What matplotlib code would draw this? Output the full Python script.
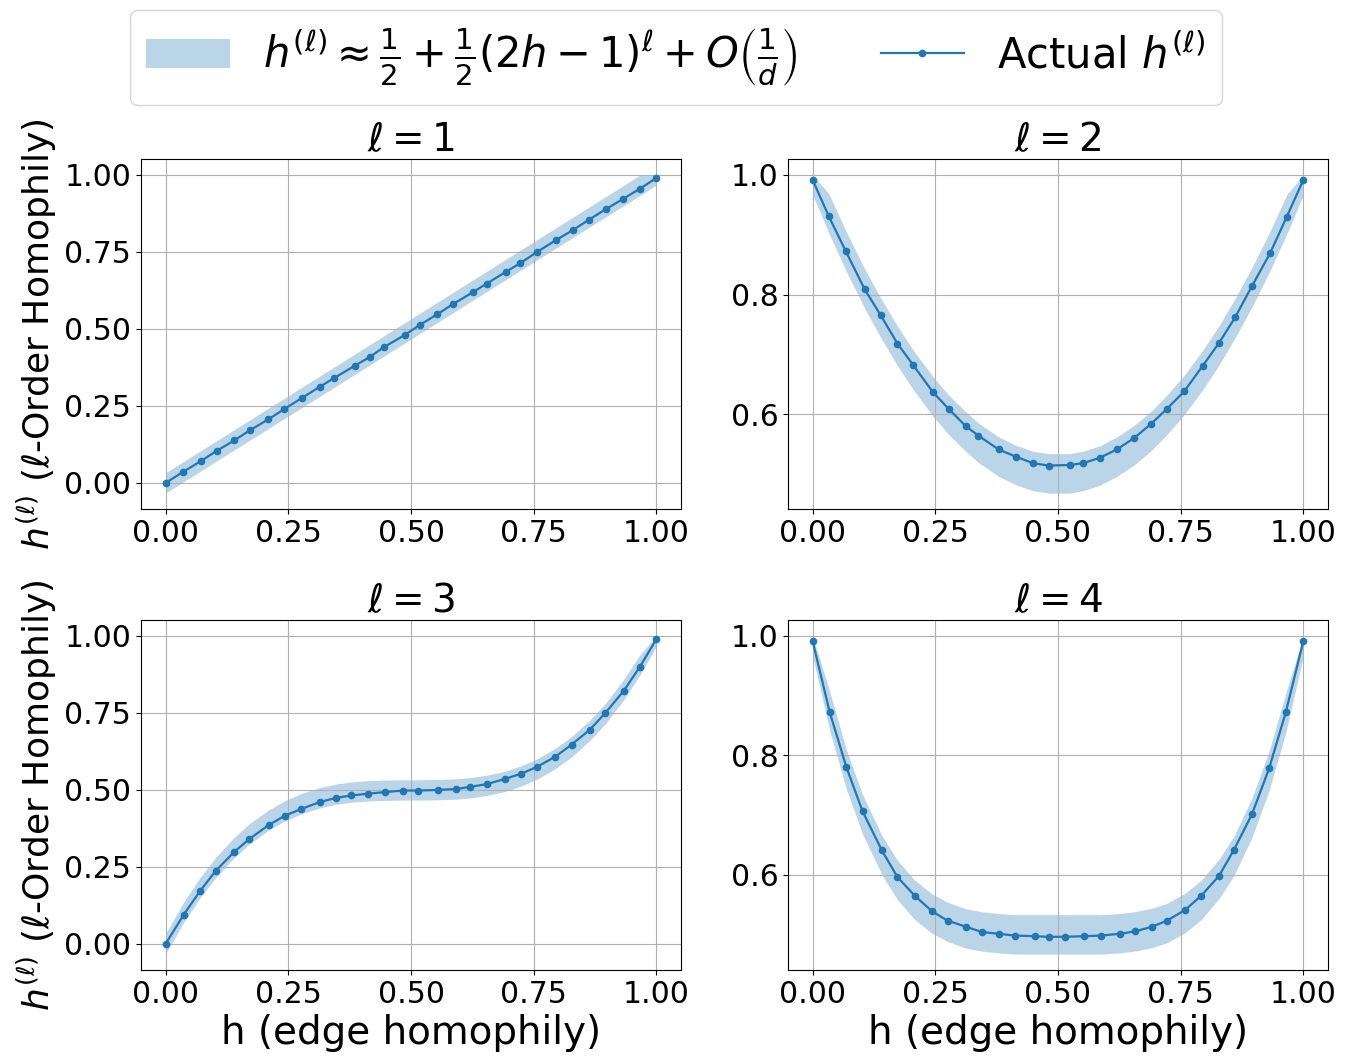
import numpy as np
import matplotlib
matplotlib.use("Agg")
import matplotlib.pyplot as plt

# edge homophily h of each graph, per panel
h_l1 = [0.0, 0.036, 0.072, 0.104, 0.140, 0.173, 0.209, 0.242, 0.278, 0.314,
        0.344, 0.386, 0.416, 0.446, 0.488, 0.519, 0.553, 0.586, 0.627, 0.654,
        0.693, 0.723, 0.757, 0.796, 0.830, 0.862, 0.898, 0.932, 0.966, 1.0]
h_l2 = [0.0, 0.033, 0.068, 0.106, 0.139, 0.173, 0.205, 0.245, 0.277, 0.312,
        0.338, 0.379, 0.414, 0.449, 0.481, 0.524, 0.551, 0.585, 0.620, 0.655,
        0.690, 0.722, 0.757, 0.795, 0.828, 0.861, 0.895, 0.932, 0.966, 1.0]
h_l3 = [0.0, 0.037, 0.070, 0.102, 0.140, 0.171, 0.211, 0.243, 0.276, 0.315,
        0.347, 0.378, 0.413, 0.448, 0.484, 0.515, 0.555, 0.592, 0.621, 0.655,
        0.692, 0.725, 0.757, 0.794, 0.827, 0.864, 0.896, 0.933, 0.966, 1.0]
h_l4 = [0.0, 0.035, 0.069, 0.102, 0.141, 0.173, 0.208, 0.243, 0.275, 0.312,
        0.345, 0.379, 0.412, 0.453, 0.481, 0.514, 0.553, 0.587, 0.626, 0.657,
        0.692, 0.722, 0.759, 0.792, 0.828, 0.858, 0.895, 0.930, 0.964, 1.0]

# actual l-order homophily
act_l1 = [0.0, 0.036, 0.071, 0.104, 0.138, 0.172, 0.206, 0.240, 0.276, 0.312,
          0.341, 0.381, 0.409, 0.442, 0.481, 0.514, 0.547, 0.581, 0.620, 0.647,
          0.685, 0.714, 0.750, 0.789, 0.821, 0.854, 0.890, 0.922, 0.955, 0.990]
act_l2 = [0.992, 0.931, 0.872, 0.809, 0.765, 0.718, 0.682, 0.637, 0.609, 0.580,
          0.564, 0.541, 0.529, 0.518, 0.514, 0.515, 0.518, 0.527, 0.541, 0.560,
          0.584, 0.609, 0.638, 0.681, 0.719, 0.762, 0.814, 0.869, 0.930, 0.992]
act_l3 = [0.0, 0.095, 0.171, 0.237, 0.299, 0.341, 0.387, 0.416, 0.438, 0.461,
          0.474, 0.482, 0.488, 0.493, 0.498, 0.498, 0.500, 0.503, 0.510, 0.519,
          0.536, 0.553, 0.575, 0.608, 0.647, 0.695, 0.750, 0.821, 0.899, 0.990]
act_l4 = [0.992, 0.872, 0.780, 0.706, 0.641, 0.596, 0.565, 0.539, 0.523, 0.513,
          0.504, 0.501, 0.498, 0.497, 0.496, 0.496, 0.497, 0.498, 0.501, 0.505,
          0.513, 0.523, 0.541, 0.565, 0.598, 0.641, 0.701, 0.778, 0.872, 0.992]

# centre of the approximation band
band_l1 = [0.0, 0.036, 0.072, 0.104, 0.140, 0.173, 0.209, 0.242, 0.278, 0.314,
           0.344, 0.386, 0.416, 0.446, 0.488, 0.519, 0.553, 0.586, 0.627, 0.654,
           0.693, 0.723, 0.757, 0.796, 0.830, 0.862, 0.898, 0.932, 0.966, 1.0]
band_l2 = [1.0, 0.936, 0.873, 0.810, 0.761, 0.714, 0.674, 0.630, 0.599, 0.571,
           0.552, 0.529, 0.515, 0.505, 0.501, 0.501, 0.505, 0.514, 0.529, 0.548,
           0.572, 0.599, 0.632, 0.674, 0.715, 0.761, 0.812, 0.873, 0.934, 1.0]
band_l3 = [0.0, 0.103, 0.182, 0.248, 0.313, 0.358, 0.403, 0.432, 0.455, 0.475,
           0.486, 0.493, 0.497, 0.499, 0.500, 0.500, 0.501, 0.503, 0.507, 0.515,
           0.528, 0.546, 0.568, 0.602, 0.640, 0.693, 0.748, 0.825, 0.905, 1.0]
band_l4 = [1.0, 0.874, 0.776, 0.701, 0.633, 0.591, 0.558, 0.535, 0.521, 0.510,
           0.505, 0.502, 0.500, 0.500, 0.500, 0.500, 0.500, 0.500, 0.502, 0.505,
           0.511, 0.519, 0.536, 0.558, 0.593, 0.631, 0.695, 0.774, 0.871, 1.0]
band_half = 0.033

yticks_odd = [0.0, 0.25, 0.5, 0.75, 1.0]
yticks_even = [0.6, 0.8, 1.0]

panels = [(1, h_l1, act_l1, band_l1), (2, h_l2, act_l2, band_l2),
          (3, h_l3, act_l3, band_l3), (4, h_l4, act_l4, band_l4)]

fig = plt.figure(figsize=(13.48, 10.64), dpi=100)
W, H = 1348, 1064
boxes = [(141, 159), (788, 159), (141, 620), (788, 620)]
aw, ah = 540, 350

for i, (l, h, act, band) in enumerate(panels):
    x0, y0 = boxes[i]
    ax = fig.add_axes([x0 / W, 1 - (y0 + ah) / H, aw / W, ah / H])
    h = np.array(h)
    band = np.array(band)
    lo = band - band_half
    hi = np.minimum(band + band_half, 1.0)
    fb = ax.fill_between(h, lo, hi, color='C0', alpha=0.3, linewidth=0)
    ln, = ax.plot(h, act, color='C0', marker='o', markersize=4.5, linewidth=1.6)
    ax.set_title(r'$\ell = %d$' % l, fontsize=28)
    ax.tick_params(labelsize=21.5)
    ax.set_xticks([0, 0.25, 0.5, 0.75, 1.0])
    ax.set_yticks(yticks_odd if l % 2 == 1 else yticks_even)
    ax.grid(True)
    if i % 2 == 0:
        ax.set_ylabel(r'$h^{(\ell)}$ ($\ell$-Order Homophily)', fontsize=26)
    if i >= 2:
        ax.set_xlabel('h (edge homophily)', fontsize=28)
    if i == 0:
        handles = [fb, ln]

labels = [r'$h^{(\ell)} \approx \frac{1}{2} + \frac{1}{2}(2h-1)^{\ell} + O\left(\frac{1}{d}\right)$',
          r'Actual $h^{(\ell)}$']
fig.legend(handles=handles, labels=labels, loc='upper center',
           bbox_to_anchor=(676 / W, 1 + 11 / H), ncol=2, fontsize=30, columnspacing=2)

plt.savefig('out.png', dpi=100)
